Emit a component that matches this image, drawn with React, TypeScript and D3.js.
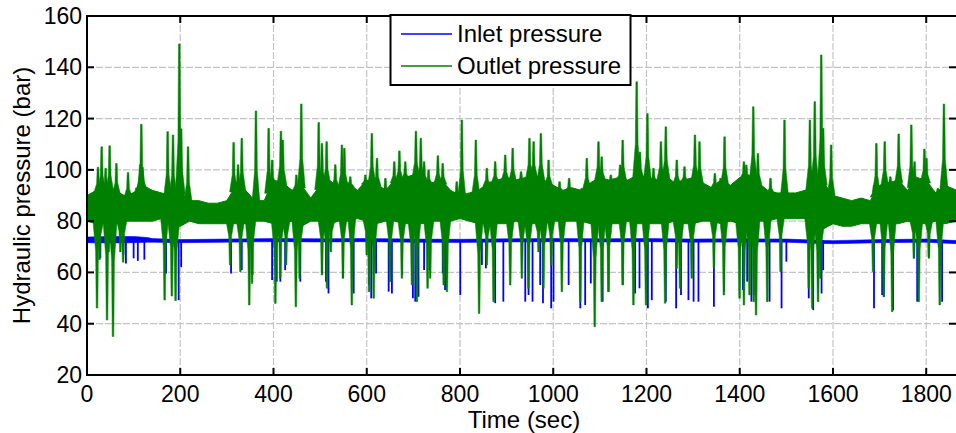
import React from "react";
import * as d3 from "d3";

// Outlet (green) noise band envelope: [time, upper, lower]
const outletBand: [number, number, number][] = [
  [0, 90, 80], [20, 92, 79], [40, 93, 79], [60, 92, 79], [80, 90, 80], [100, 91, 80],
  [120, 94, 80], [140, 92, 80], [160, 91, 81], [180, 90, 79], [200, 92, 78], [220, 88, 80],
  [240, 88, 79], [260, 87, 79], [280, 87, 79], [300, 88, 79], [320, 94, 79], [340, 92, 79],
  [360, 88, 80], [380, 88, 80], [400, 96, 79], [420, 95, 79], [440, 92, 80], [460, 94, 78],
  [480, 89, 80], [500, 94, 80], [520, 96, 79], [540, 93, 80], [560, 95, 80], [580, 92, 81],
  [600, 96, 80], [620, 95, 79], [640, 92, 80], [660, 96, 80], [680, 97, 79], [700, 98, 79],
  [720, 96, 79], [740, 95, 80], [760, 96, 80], [780, 92, 80], [800, 90, 81], [820, 91, 80],
  [840, 92, 79], [860, 95, 79], [880, 96, 79], [900, 97, 79], [920, 96, 80], [940, 97, 79],
  [960, 98, 79], [980, 96, 79], [1000, 94, 80], [1020, 92, 80], [1040, 93, 80], [1060, 92, 80],
  [1080, 95, 79], [1100, 97, 79], [1120, 96, 79], [1140, 97, 79], [1160, 96, 80], [1180, 98, 79],
  [1200, 97, 79], [1220, 96, 79], [1240, 98, 79], [1260, 95, 80], [1280, 96, 79], [1300, 97, 79],
  [1320, 95, 80], [1340, 93, 80], [1360, 96, 79], [1380, 94, 80], [1400, 97, 79], [1420, 98, 79],
  [1440, 95, 80], [1460, 92, 80], [1480, 91, 81], [1500, 91, 81], [1520, 91, 81], [1540, 92, 81],
  [1560, 95, 79], [1580, 95, 77], [1600, 90, 79], [1620, 89, 78], [1640, 88, 78], [1660, 89, 79],
  [1680, 88, 79], [1700, 94, 79], [1720, 95, 79], [1740, 96, 79], [1760, 92, 80], [1780, 97, 79],
  [1800, 96, 79], [1820, 91, 80], [1840, 94, 79], [1866, 92, 80],
];

// Outlet upward spikes: [time, peak]
const outletUpSpikes: [number, number][] = [
  [23.6, 101], [31.5, 109], [40, 100.6], [48.6, 109.4], [63, 102.5], [88, 99], [106, 93],
  [114, 102], [116.5, 117.8], [119, 101], [173, 114.9], [184.5, 113.6], [198, 149.1], [202, 116],
  [216.7, 109], [314.5, 110.7], [324, 102], [332, 112.3], [362.4, 123], [389.6, 116.2], [397, 103.8],
  [416, 115.1], [420, 111.6], [449, 98], [459.6, 125.7], [497, 118.5], [504, 110.3], [514, 111],
  [532.5, 102], [546.7, 109.7], [552, 108.4], [564.6, 97.3], [597, 98], [611, 114.2], [622, 104.5],
  [640, 96.7], [659, 103.2], [670, 107.4], [682.6, 103.2], [705.5, 115.1], [716, 112.3], [723, 103.2],
  [732.6, 100], [752.6, 105.5], [763, 102.5], [793, 95.4], [804, 119.4], [834, 111.6], [857.6, 100.6],
  [875.5, 103.2], [897, 105.8], [913, 108.4], [931, 99.3], [949, 112.3], [958, 111], [973.5, 114.2],
  [990, 103.8], [1013.5, 95.4], [1034, 96.7], [1061, 92.8], [1072, 104.5], [1097, 111], [1104, 105.1],
  [1123.5, 98], [1143.5, 101.9], [1149, 111.6], [1165, 95.4], [1179, 134.4], [1186, 107], [1202, 122],
  [1215, 100.6], [1231, 111], [1241.5, 116.8], [1265, 103.8], [1281.5, 101.2], [1304, 113.6],
  [1313.7, 111], [1346.7, 98.6], [1359, 96.7], [1367.5, 112.9], [1409, 103.2], [1414, 101.9],
  [1429, 124.6], [1439, 106.4], [1466, 96.7], [1484, 90.2], [1496, 119.4], [1550.5, 119.4],
  [1561, 126.6], [1574.8, 144.8], [1579, 116.2], [1596, 109.7], [1688, 94], [1693, 110.3], [1711, 111],
  [1723, 97.3], [1741, 114], [1768, 117.5], [1775, 103.2], [1796, 108.1], [1800.6, 104.5],
  [1825, 92.8], [1838, 125.7], [1852, 88.9],
];

// Outlet downward spikes: [time, trough]
const outletDownSpikes: [number, number][] = [
  [21.5, 46.1], [27, 65], [43, 41.4], [55.8, 35], [71.5, 68], [77.5, 64], [166.5, 49.2], [182, 50.8],
  [190, 49], [307, 62.9], [329, 60.3], [348, 47.3], [354, 55.7], [404, 47.9], [414.6, 57.7], [427, 62.9],
  [448, 46.6], [456, 57.7], [504, 59], [514.7, 53.8], [523, 68], [549, 57.7], [568, 47.3], [600, 66.8],
  [605, 52.5], [615, 49.9], [650, 56.4], [675.4, 57.7], [697, 55.1], [707.6, 48.6], [730.5, 53.8],
  [736, 57.7], [765, 55.1], [772, 52.5], [841, 44], [857.6, 62.9], [872, 48.6], [907.7, 55.1],
  [932.7, 57.7], [947, 53.8], [968.5, 68], [979, 53.8], [995.6, 62.9], [1018.5, 52.5], [1058, 48.6],
  [1089, 38.8], [1104, 48.6], [1118.5, 52.5], [1149, 55.1], [1172, 47.3], [1199, 47.3], [1240, 48],
  [1265, 61.6], [1272, 53.8], [1297, 57.7], [1344.6, 61.6], [1366, 51.2], [1399.6, 49.9], [1409, 47.3],
  [1421, 51.2], [1430, 48.6], [1435, 43.4], [1459, 48.6], [1487.6, 60.3], [1548, 53.8], [1555.5, 46],
  [1568, 48.6], [1573, 57.7], [1686, 60.3], [1709, 50.5], [1727, 44.7], [1773.5, 65.5], [1784, 48.6],
  [1805.6, 65.5], [1829, 47.3],
];

// Inlet (blue) band: [time, upper, lower]
const inletBand: [number, number, number][] = [
  [0, 73.8, 71.6], [50, 74.0, 71.5], [100, 74.0, 71.6], [130, 73.6, 71.8], [140, 73.2, 71.8],
  [200, 72.8, 71.6], [300, 73.0, 71.8], [400, 73.2, 72.0], [500, 73.1, 71.9], [600, 73.2, 72.0],
  [700, 73.0, 71.8], [800, 72.9, 71.7], [900, 73.1, 71.9], [1000, 73.2, 72.0], [1100, 73.1, 71.9],
  [1200, 73.2, 72.0], [1300, 73.0, 71.8], [1400, 73.1, 71.9], [1500, 73.0, 71.8], [1560, 72.6, 71.4],
  [1600, 72.4, 71.2], [1700, 72.8, 71.6], [1800, 73.0, 71.8], [1866, 72.4, 71.2],
];

// Inlet downward spikes: [time, trough]
const inletDownSpikes: [number, number][] = [
  [28.6, 65.5], [46.5, 68], [78, 66.8], [83.5, 63.5], [100, 65.5], [109, 64.5], [123, 65], [169.5, 59.6],
  [196.6, 49.2], [202, 62], [309, 59.6], [332, 60.9], [355, 59], [397, 57], [407, 56.4], [414.6, 56.4],
  [425, 60.9], [457.5, 56.4], [504, 59.6], [512.5, 56.4], [518, 51.8], [549, 57.7], [572, 51.8], [605, 55],
  [609.6, 49.9], [620, 59.6], [647, 52.5], [654, 51.8], [675.4, 59], [699, 49.9], [704, 48.6], [711, 50.5],
  [723, 60.9], [735, 60.9], [763, 59.6], [768, 53.1], [800.6, 51.2], [847, 62.9], [855.5, 61.6],
  [875.5, 48], [893, 48.6], [940, 48.6], [947, 51.2], [955.6, 48.6], [972, 55.1], [978, 48],
  [995.6, 46], [1000.6, 48.6], [1033, 55.1], [1058, 46], [1068.5, 47.3], [1080.6, 55.7], [1106, 48.6],
  [1118.5, 52.5], [1149, 55.1], [1175.7, 51.8], [1185, 53.8], [1203, 46], [1211.4, 49.2], [1241.5, 48.6],
  [1263.6, 46], [1274, 51.2], [1290, 49.2], [1301, 48.6], [1311.5, 48.6], [1344.6, 46.6], [1366, 52.5],
  [1406.8, 53.1], [1416, 56.4], [1425, 48.6], [1430, 51.2], [1464, 48.6], [1489.7, 46], [1500, 64.2],
  [1548, 49.9], [1557.6, 45.3], [1575.5, 51.8], [1579, 60.9], [1688, 46], [1705.5, 51.2], [1709, 50.5],
  [1729, 45.3], [1773.5, 65.5], [1780.6, 48.6], [1805.6, 66.1], [1834, 48.6],
];

const xTicks = [0, 200, 400, 600, 800, 1000, 1200, 1400, 1600, 1800];
const yTicks = [20, 40, 60, 80, 100, 120, 140, 160];
const seriesNames = ["Inlet pressure", "Outlet pressure"];

const W = 956;
const H = 433;
const L = 87;
const R = 957;
const T = 16;
const B = 375;
const BLUE = "#0000ff";
const GREEN = "#008000";
const FONT = "'Liberation Sans', Arial, sans-serif";

type Band = [number, number, number][];

export default function App() {
  const x = d3.scaleLinear().domain([0, 1866]).range([L, R]);
  const y = d3.scaleLinear().domain([20, 160]).range([B, T]);

  const area = d3
    .area<[number, number, number]>()
    .x((d) => x(d[0]))
    .y0((d) => y(d[2]))
    .y1((d) => y(d[1]));

  const bandAt = (t: number, band: Band) => {
    const i = d3.bisector((d: [number, number, number]) => d[0]).left(band, t);
    const a = band[Math.max(i - 1, 0)];
    const b = band[Math.min(i, band.length - 1)];
    const k = b[0] === a[0] ? 0 : (t - a[0]) / (b[0] - a[0]);
    return [a[1] + (b[1] - a[1]) * k, a[2] + (b[2] - a[2]) * k];
  };

  // burst shape: wide near the band, thin toward the extreme value
  const burst = (t: number, v: number, up: boolean) => {
    const [hi, lo] = bandAt(t, outletBand);
    const edge = up ? hi - 1 : lo + 1;
    const cx = x(t);
    const ye = y(edge);
    const yp = y(v);
    const ym = ye + (yp - ye) * 0.35;
    return `M${cx - 4},${ye} L${cx - 1.4},${ym} L${cx - 0.8},${yp} L${cx + 0.8},${yp} L${cx + 1.4},${ym} L${cx + 4},${ye} Z`;
  };

  const tickLen = 7;

  return (
    <svg
      width={W}
      height={H}
      style={{ position: "absolute", left: 0, top: 0, background: "#fff" }}
      fontFamily={FONT}
    >
      <defs>
        <clipPath id="plotClip">
          <rect x={L} y={T} width={R - L} height={B - T} />
        </clipPath>
      </defs>
      <rect x={0} y={0} width={W} height={H} fill="#fff" />
      {/* grid */}
      <g stroke="#c4c4c4" strokeWidth={1.2} strokeDasharray="7 2">
        {xTicks.slice(1).map((t) => (
          <line key={"gx" + t} x1={x(t)} x2={x(t)} y1={T} y2={B} />
        ))}
        {yTicks.slice(1, -1).map((v) => (
          <line key={"gy" + v} x1={L} x2={R} y1={y(v)} y2={y(v)} />
        ))}
      </g>
      {/* data */}
      <g clipPath="url(#plotClip)">
        <path d={area(inletBand) || ""} fill={BLUE} stroke={BLUE} strokeWidth={0.6} />
        {inletDownSpikes.map(([t, v], i) => (
          <line
            key={"bs" + i}
            x1={x(t)}
            x2={x(t)}
            y1={y(72.5)}
            y2={y(v)}
            stroke={BLUE}
            strokeWidth={1.8}
          />
        ))}
        <path d={area(outletBand) || ""} fill={GREEN} stroke={GREEN} strokeWidth={1} />
        {outletUpSpikes.map(([t, v], i) => (
          <path key={"gu" + i} d={burst(t, v, true)} fill={GREEN} stroke={GREEN} strokeWidth={0.5} />
        ))}
        {outletDownSpikes.map(([t, v], i) => (
          <path key={"gd" + i} d={burst(t, v, false)} fill={GREEN} stroke={GREEN} strokeWidth={0.5} />
        ))}
      </g>
      {/* frame */}
      <rect x={L} y={T} width={R - L} height={B - T} fill="none" stroke="#000" strokeWidth={2} />
      {/* ticks */}
      <g stroke="#000" strokeWidth={2}>
        {xTicks.map((t) => (
          <g key={"xt" + t}>
            <line x1={x(t)} x2={x(t)} y1={B} y2={B - tickLen} />
            <line x1={x(t)} x2={x(t)} y1={T} y2={T + tickLen} />
          </g>
        ))}
        {yTicks.map((v) => (
          <g key={"yt" + v}>
            <line x1={L} x2={L + tickLen} y1={y(v)} y2={y(v)} />
            <line x1={R - 1} x2={R - 1 - tickLen} y1={y(v)} y2={y(v)} />
          </g>
        ))}
      </g>
      {/* tick labels */}
      <g fontSize={23} fill="#000">
        {xTicks.map((t) => (
          <text key={"xl" + t} x={x(t)} y={402} textAnchor="middle">
            {t}
          </text>
        ))}
        {yTicks.map((v) => (
          <text key={"yl" + v} x={82} y={y(v) + 8} textAnchor="end">
            {v}
          </text>
        ))}
      </g>
      <text x={524} y={428} fontSize={24} textAnchor="middle" fill="#000">
        Time (sec)
      </text>
      <text
        transform={`translate(30, ${(T + B) / 2}) rotate(-90)`}
        fontSize={24}
        textAnchor="middle"
        fill="#000"
      >
        Hydraulic pressure (bar)
      </text>
      {/* legend */}
      <g>
        <rect x={390.5} y={15} width={240} height={70} fill="#fff" stroke="#000" strokeWidth={2} />
        {seriesNames.map((name, i) => (
          <g key={name}>
            <line
              x1={401}
              x2={452}
              y1={34 + i * 32}
              y2={34 + i * 32}
              stroke={i === 0 ? BLUE : GREEN}
              strokeWidth={1.5}
            />
            <text x={457} y={42 + i * 32} fontSize={24} fill="#000">
              {name}
            </text>
          </g>
        ))}
      </g>
    </svg>
  );
}
